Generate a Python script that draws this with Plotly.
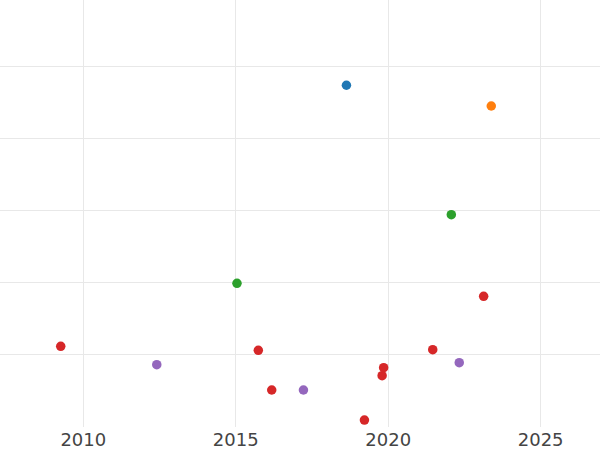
import plotly.graph_objects as go

# Data (x = year, y = arbitrary units)
blue_x = [2018.63]
blue_y = [4.746]
orange_x = [2023.38]
orange_y = [4.458]
green_x = [2015.04, 2022.07]
green_y = [1.996, 2.949]
red_x = [2009.26, 2015.74, 2016.18, 2019.22, 2019.80, 2019.85, 2021.46, 2023.13]
red_y = [1.121, 1.065, 0.514, 0.097, 0.713, 0.824, 1.074, 1.815]
purple_x = [2012.41, 2017.22, 2022.33]
purple_y = [0.865, 0.514, 0.893]

x_tickvals = [2010, 2015, 2020, 2025]
x_ticktext = ["2010", "2015", "2020", "2025"]
y_gridvals = [1, 2, 3, 4, 5]

series = [
    ("blue", blue_x, blue_y, "#1f77b4"),
    ("orange", orange_x, orange_y, "#ff7f0e"),
    ("green", green_x, green_y, "#2ca02c"),
    ("red", red_x, red_y, "#d62728"),
    ("purple", purple_x, purple_y, "#9467bd"),
]

fig = go.Figure()
for name, xs, ys, col in series:
    fig.add_trace(go.Scatter(x=xs, y=ys, mode="markers", name=name,
                             marker=dict(color=col, size=9.5, line=dict(width=0))))

fig.update_layout(
    width=600, height=450,
    margin=dict(l=0, r=0, t=0, b=23),
    paper_bgcolor="white", plot_bgcolor="white",
    showlegend=False,
    font=dict(family="DejaVu Sans", size=18, color="#444444"),
)
fig.update_xaxes(range=[2007.268, 2026.946], tickvals=x_tickvals, ticktext=x_ticktext,
                 showgrid=True, gridcolor="#e8e8e8", gridwidth=1, zeroline=False,
                 showline=False, ticks="", tickfont=dict(size=18, color="#444444"))
fig.update_yaxes(range=[0, 5.93], tickvals=y_gridvals, showticklabels=False,
                 showgrid=True, gridcolor="#e8e8e8", gridwidth=1, zeroline=False,
                 showline=False, ticks="")

fig.write_html("out.html", config={"displayModeBar": False},
               post_script="document.body.style.margin='0';document.body.style.overflow='hidden';")
